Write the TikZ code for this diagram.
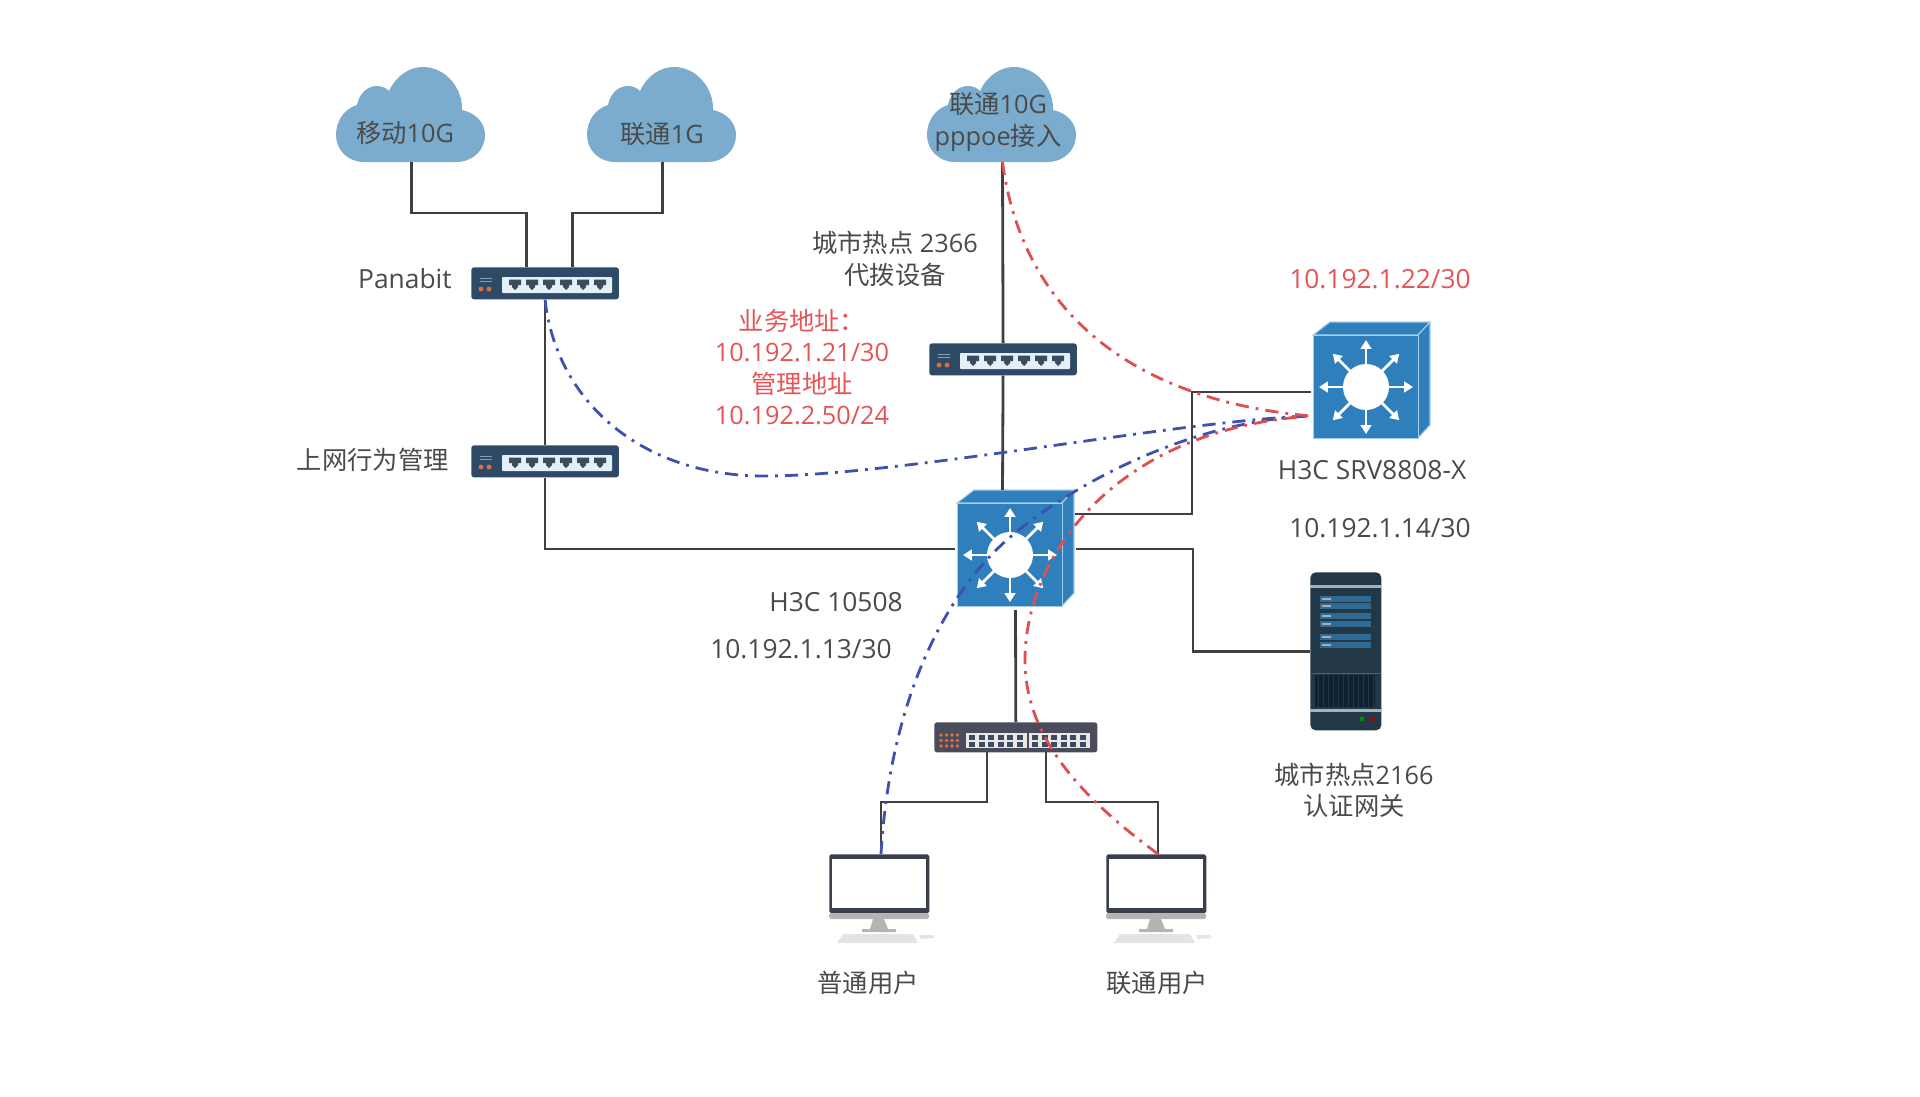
\documentclass[tikz,border=0pt]{standalone}
\usepackage{fontspec}
\setmainfont{Open Sans}
\newfontfamily\cjk{Noto Sans CJK SC}
\usepackage{tikz}
\usetikzlibrary{arrows.meta, positioning}
\definecolor{cloudblue}{HTML}{7BACCE}
\definecolor{swbody}{HTML}{2F4A66}
\definecolor{swport}{HTML}{E3F0F7}
\definecolor{swplug}{HTML}{3C4C5E}
\definecolor{swledorange}{HTML}{E0703A}
\definecolor{hubbody}{HTML}{4A4C5C}
\definecolor{hubport}{HTML}{E8E8E8}
\definecolor{coreface}{HTML}{2F7FBD}
\definecolor{coreedge}{HTML}{A4CDEB}
\definecolor{srvbody}{HTML}{223847}
\definecolor{srvpanel}{HTML}{2F6A94}
\definecolor{srvlight}{HTML}{A5B0B8}
\definecolor{srvgrill}{HTML}{0F2130}
\definecolor{pcframe}{HTML}{3A3F4E}
\definecolor{pcgrey}{HTML}{B4B4B4}
\definecolor{keygrey}{HTML}{E4E4E4}
\definecolor{textgrey}{HTML}{4A4A4A}
\definecolor{redtxt}{HTML}{E65456}
\definecolor{redline}{HTML}{E04F4F}
\definecolor{blueline}{HTML}{3F51B0}
\tikzset{
    txt/.style={font=\fontsize{14.4}{17.9}\selectfont, text=textgrey, inner sep=0pt, align=center},
    latin/.style={font=\fontsize{15}{17.9}\selectfont},
    redlabel/.style={txt, text=redtxt},
    link/.style={draw=black!75, line width=1.6pt},
    trace/.style={line width=1.6pt, dash pattern=on 7.5pt off 4pt on 1.6pt off 4pt},
    cloudicon/.pic={
        \fill[cloudblue] (28,95) .. controls (12,95) and (0,83) .. (0,68)
            .. controls (0,54) and (8,42) .. (21,38)
            .. controls (23,27) and (31,19) .. (41,19)
            .. controls (46,19) and (50,21) .. (53,24)
            .. controls (60,9) and (73,0) .. (87,0)
            .. controls (110,0) and (127,22) .. (126,43)
            .. controls (140,46) and (149,56) .. (149,68)
            .. controls (149,83) and (137,95) .. (120,95) -- cycle;
        \coordinate (-out) at (75.5,95);
    },
    sixport/.pic={
        \node[fill=swbody, rounded corners=1.5pt, minimum width=2.95cm, minimum height=.64cm,
            inner sep=0pt, anchor=north west] (-body) at (0,0) {};
        \fill[swport, rounded corners=.5pt] (31,10) rectangle (141,26);
        \foreach \x in {44,61,78,95,112,129} {
            \fill[swplug] (\x-6,12.5) -- (\x+6,12.5) -- (\x+6,18) -- (\x+3,18)
                -- (\x+3,20) -- (\x,23) -- (\x-3,20) -- (\x-3,18) -- (\x-6,18) -- cycle;
        }
        \draw[white!45!swbody, line width=.5pt] (9,11) -- (21,11) (9,14) -- (21,14);
        \fill[swledorange] (10,22) circle[radius=2.4] (18,22) circle[radius=2.4];
        \coordinate (-inA) at (55.5,0);
        \coordinate (-inB) at (101.5,0);
    },
    hubport/.pic={
        \node[fill=hubbody, rounded corners=1.5pt, minimum width=3.26cm, minimum height=.6cm,
            inner sep=0pt, anchor=north west] (-body) at (0,0) {};
        \foreach \x in {32,95} {
            \fill[hubport] (\x,11) rectangle (\x+61,26);
            \foreach \i in {0,...,5} {
                \fill[swplug] (\x+6+\i*9.6-3,13) rectangle (\x+6+\i*9.6+3,18);
                \fill[swplug] (\x+6+\i*9.6-3,20) rectangle (\x+6+\i*9.6+3,25);
            }
        }
        \foreach \x in {7,12.5,18,23.5} \foreach \y in {13,18.5,24}
            \fill[swledorange] (\x,\y) circle[radius=1.9];
        \coordinate (-outA) at (53,30);
        \coordinate (-outB) at (112,30);
    },
    coreswitch/.pic={
        \draw[coreedge, fill=coreface, line width=.6pt] (0,13) -- (17,0) -- (117,0) -- (105,13) -- cycle;
        \draw[coreedge, fill=coreface, line width=.6pt] (105,13) -- (117,0) -- (117,103) -- (105,116) -- cycle;
        \node[draw=coreedge, fill=coreface, line width=.6pt, minimum width=2.1cm, minimum height=2.06cm,
            inner sep=0pt, anchor=north west] (-face) at (0,13) {};
        \fill[white] (53,65) circle[radius=23];
        \foreach \a in {0,45,...,315}
            \draw[white, line width=1.6pt, -{Triangle[length=5pt,width=6pt]}, shift={(53,65)}] (\a:22) -- (\a:47);
    },
    serverbox/.pic={
        \node[fill=srvbody, rounded corners=3pt, minimum width=1.42cm, minimum height=3.16cm,
            inner sep=0pt, anchor=north west] (-body) at (0,0) {};
        \fill[srvlight] (0,13) rectangle (71,15.5);
        \foreach \y in {24,31,41,49,62,70} {
            \fill[srvpanel] (10,\y) rectangle (61,\y+6);
            \fill[srvlight] (12,\y+2) rectangle (21,\y+4);
        }
        \fill[srvpanel] (0,100.5) rectangle (71,101.5);
        \fill[srvgrill] (5,103) rectangle (65,135);
        \foreach \x in {8,13,...,63}
            \fill[srvbody] (\x,103) rectangle (\x+1.2,135);
        \fill[srvlight] (0,137) rectangle (71,140);
        \fill[green!55!black] (52,147) circle[radius=2.5];
        \fill[red!65!black] (62,147) circle[radius=2.5];
    },
    pcicon/.pic={
        \node[fill=pcframe, rounded corners=1pt, minimum width=2cm, minimum height=1.18cm,
            inner sep=0pt, anchor=north west] (-body) at (0,0) {};
        \fill[white] (3,5) rectangle (97,54);
        \fill[pcgrey, rounded corners=1pt] (0,59) rectangle (100,65);
        \fill[pcgrey] (44,65) -- (55,65) -- (59,75) -- (67,75) -- (67,78) -- (33,78) -- (33,75) -- (41,75) -- cycle;
        \fill[keygrey] (14,80) -- (84,80) -- (89,89) -- (8,89) -- cycle;
        \fill[keygrey] (90,81) -- (104,81) -- (106,84) -- (92,85) -- cycle;
        \coordinate (-top) at (52,0);
    },
}
\begin{document}
\begin{tikzpicture}[x=0.02cm, y=-0.02cm]
    \useasboundingbox (0,0) rectangle (1920,1096);
    % Clouds
    \pic (cloudA) at (336,67) {cloudicon};
    \pic (cloudB) at (587,67) {cloudicon};
    \pic (cloudC) at (927,67) {cloudicon};
    \node[txt] (cloudAtxt) at (405,133) {{\cjk 移动}10G};
    \node[txt] (cloudBtxt) at (662,134) {{\cjk 联通}1G};
    \node[txt] (cloudCtxt) at (998,122) {{\cjk 联通}10G\\pppoe{\cjk 接入}};
    % Devices
    \pic (panabit) at (471,267) {sixport};
    \pic (behav) at (471,445) {sixport};
    \pic (dialer) at (929,343) {sixport};
    \pic (core) at (957,490) {coreswitch};
    \pic (srv) at (1313,322) {coreswitch};
    \pic (gateway) at (1310,572) {serverbox};
    \pic (hub) at (934,722) {hubport};
    \pic (pcA) at (829,854) {pcicon};
    \pic (pcB) at (1106,854) {pcicon};
    % Free ends
    \coordinate (coreL) at (955,549);
    \coordinate (coreRa) at (1075,514);
    \coordinate (coreRb) at (1076,549);
    \coordinate (coreT) at (1002.5,490);
    \coordinate (coreB) at (1015.5,610);
    \coordinate (srvL) at (1311,392);
    \coordinate (srvEnd) at (1311,416);
    % Black links
    \draw[link] (cloudA-out) -- ++(0,51) -| (panabit-inA);
    \draw[link] (cloudB-out) -- ++(0,51) -| (panabit-inB);
    \draw[link] (panabit-body.south) -- (behav-body.north);
    \draw[link] (behav-body.south) |- (coreL);
    \draw[link] (cloudC-out) -- (dialer-body.north);
    \draw[link] (dialer-body.south) -- (coreT);
    \draw[link] (coreRa) -- ++(117,0) |- (srvL);
    \draw[link] (coreRb) -- ++(117,0) |- (gateway-body.west);
    \draw[link] (coreB) -- (hub-body.north);
    \draw[link] (hub-outA) -- ++(0,50) -| (pcA-top);
    \draw[link] (hub-outB) -- ++(0,50) -| (pcB-top);
    % Traffic paths
    \draw[trace, blueline] (panabit-body.south) .. controls (556,400) and (640,476) .. (764,476)
        .. controls (900,476) and (1180,420) .. (srvEnd);
    \draw[trace, blueline] (pcA-top) .. controls (890,700) and (945,590) .. (1015,533)
        .. controls (1085,476) and (1200,420) .. (srvEnd);
    \draw[trace, redline] (cloudC-out) .. controls (1022,310) and (1130,400) .. (srvEnd);
    \draw[trace, redline] (pcB-top) .. controls (1085,800) and (1025,740) .. (1025,660)
        .. controls (1025,560) and (1110,430) .. (srvEnd);
    % Labels
    \node[txt, latin, anchor=east] (panabitTxt) at (452,279) {Panabit};
    \node[txt, anchor=east] (behavTxt) at (449,460) {\cjk 上网行为管理};
    \node[txt] (dialerTxt) at (895,259) {{\cjk 城市热点} 2366\\{\cjk 代拨设备}};
    \node[redlabel] (dialerAddr) at (802,367) {{\cjk 业务地址：}\\10.192.1.21/30\\{\cjk 管理地址}\\10.192.2.50/24};
    \node[redlabel, latin] (srvAddr) at (1380,279) {10.192.1.22/30};
    \node[txt, latin] (srvTxt) at (1372,470) {H3C SRV8808-X};
    \node[txt, latin] (srvLow) at (1380,528) {10.192.1.14/30};
    \node[txt, latin] (coreTxt) at (836,602) {H3C 10508};
    \node[txt, latin] (coreAddr) at (801,649) {10.192.1.13/30};
    \node[txt] (gatewayTxt) at (1354,790) {{\cjk 城市热点}2166\\{\cjk 认证网关}};
    \node[txt] (pcAtxt) at (868,983) {\cjk 普通用户};
    \node[txt] (pcBtxt) at (1157,983) {\cjk 联通用户};
\end{tikzpicture}
\end{document}
